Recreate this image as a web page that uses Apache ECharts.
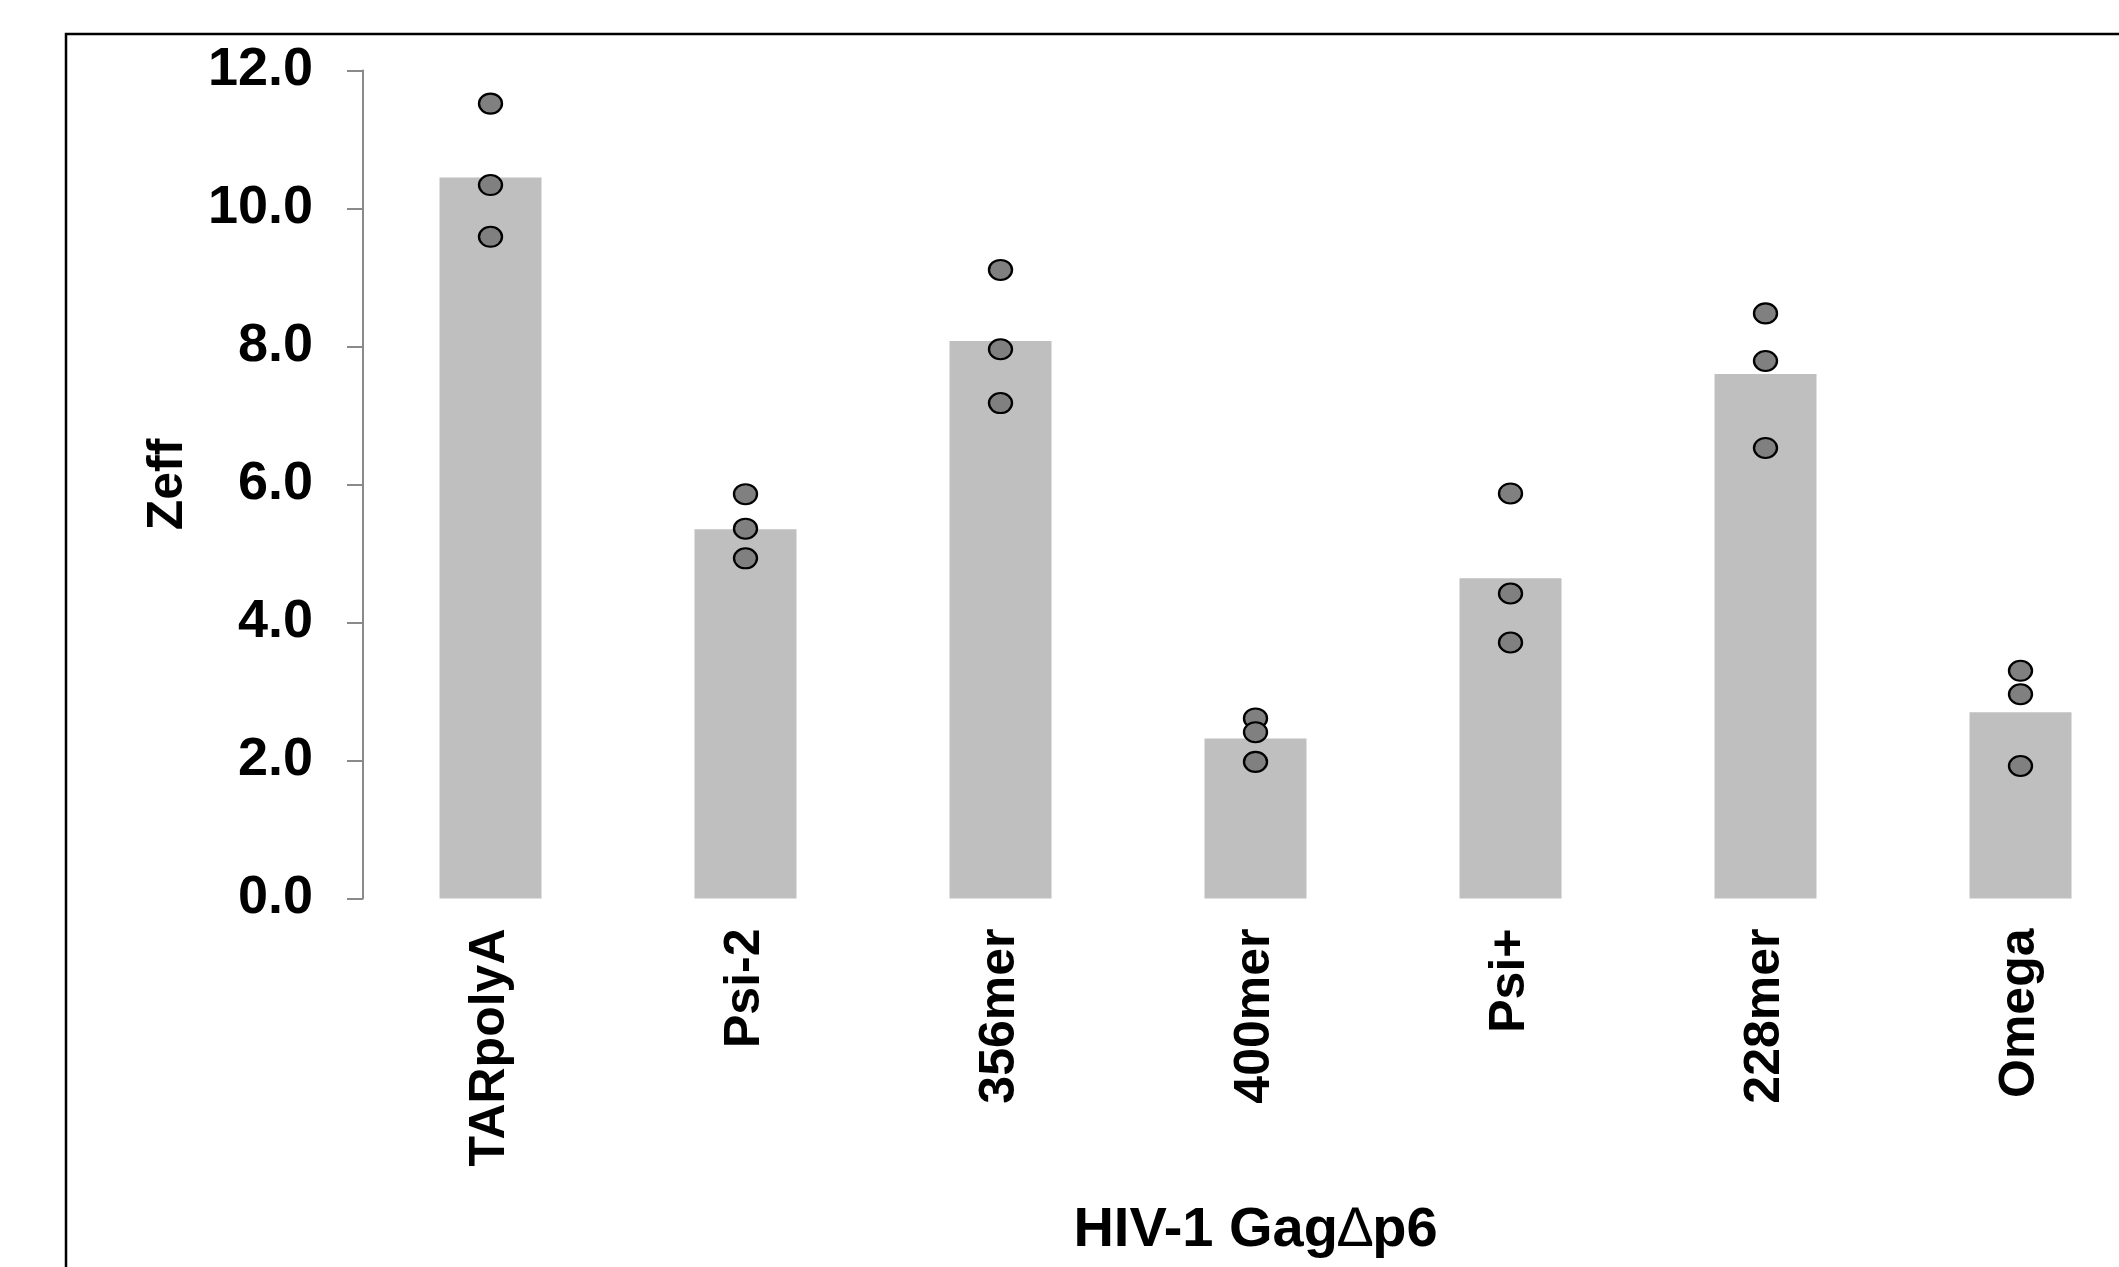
<!DOCTYPE html>
<html>
<head>
<meta charset="utf-8">
<script src="https://cdn.jsdelivr.net/npm/echarts@6/dist/echarts.min.js"></script>
<style>
html,body{margin:0;padding:0;background:#fff;}
#chart{width:2119px;height:1267px;}
</style>
</head>
<body>
<div id="chart"></div>
<script>
const categories = ['TARpolyA', 'Psi-2', '356mer', '400mer', 'Psi+', '228mer', 'Omega'];
const barValues = [10.45, 5.35, 8.08, 2.32, 4.64, 7.60, 2.70];
const rep1 = [11.52, 5.86, 9.11, 2.61, 5.87, 8.48, 3.30];
const rep2 = [10.34, 5.36, 7.96, 2.41, 4.42, 7.79, 2.96];
const rep3 = [9.59, 4.93, 7.18, 1.98, 3.71, 6.53, 1.92];
const yTicks = [0, 2, 4, 6, 8, 10, 12];
const xTitle = 'HIV-1 Gag{d|\u2206}p6';
const yTitle = 'Zeff';

const FONT = '"Liberation Sans", Arial, Helvetica, sans-serif';
const points = [];
[rep1, rep2, rep3].forEach(function (arr) {
  arr.forEach(function (v, i) { points.push([categories[i], v]); });
});

const chart = echarts.init(document.getElementById('chart'), null, {renderer: 'canvas'});
chart.setOption({
  backgroundColor: '#ffffff',
  animation: false,
  graphic: [{
    type: 'rect',
    shape: {x: 66, y: 34, width: 2200, height: 1400},
    style: {fill: 'none', stroke: '#000', lineWidth: 2.5},
    silent: true,
    z: 0
  }],
  grid: {
    left: 363, right: -29, top: 70.5, bottom: 368.5,
    containLabel: false,
    outerBoundsMode: 'none'
  },
  xAxis: {
    type: 'category',
    data: categories,
    boundaryGap: true,
    axisLine: {show: false},
    axisTick: {show: false},
    axisLabel: {
      rotate: 90, margin: 30, interval: 0,
      fontFamily: FONT, fontWeight: 'bold', fontSize: 50, color: '#000'
    },
    name: xTitle,
    nameLocation: 'middle',
    nameGap: 304,
    nameTextStyle: {
      fontFamily: FONT, fontWeight: 'bold', fontSize: 56, color: '#000',
      rich: {d: {fontFamily: FONT, fontWeight: 'normal', fontSize: 56, color: '#000'}}
    }
  },
  yAxis: {
    type: 'value',
    min: yTicks[0], max: yTicks[yTicks.length - 1], interval: 2,
    splitLine: {show: false},
    axisLine: {show: true, lineStyle: {color: '#8a8a8a', width: 2}},
    axisTick: {show: true, inside: false, length: 16, lineStyle: {color: '#8a8a8a', width: 2}},
    axisLabel: {
      margin: 50,
      formatter: function (v) { return v.toFixed(1); },
      fontFamily: FONT, fontWeight: 'bold', fontSize: 54, color: '#000'
    },
    name: yTitle,
    nameLocation: 'middle',
    nameGap: 170,
    nameRotate: 90,
    nameTextStyle: {fontFamily: FONT, fontWeight: 'bold', fontSize: 50, color: '#000'}
  },
  series: [{
    type: 'bar',
    data: barValues,
    barWidth: 102,
    itemStyle: {color: '#bfbfbf'},
    z: 2
  }, {
    type: 'scatter',
    data: points,
    symbol: 'circle',
    symbolSize: [23, 20],
    itemStyle: {color: '#808080', borderColor: '#000', borderWidth: 2.2, opacity: 1},
    z: 3
  }]
});
</script>
</body>
</html>
